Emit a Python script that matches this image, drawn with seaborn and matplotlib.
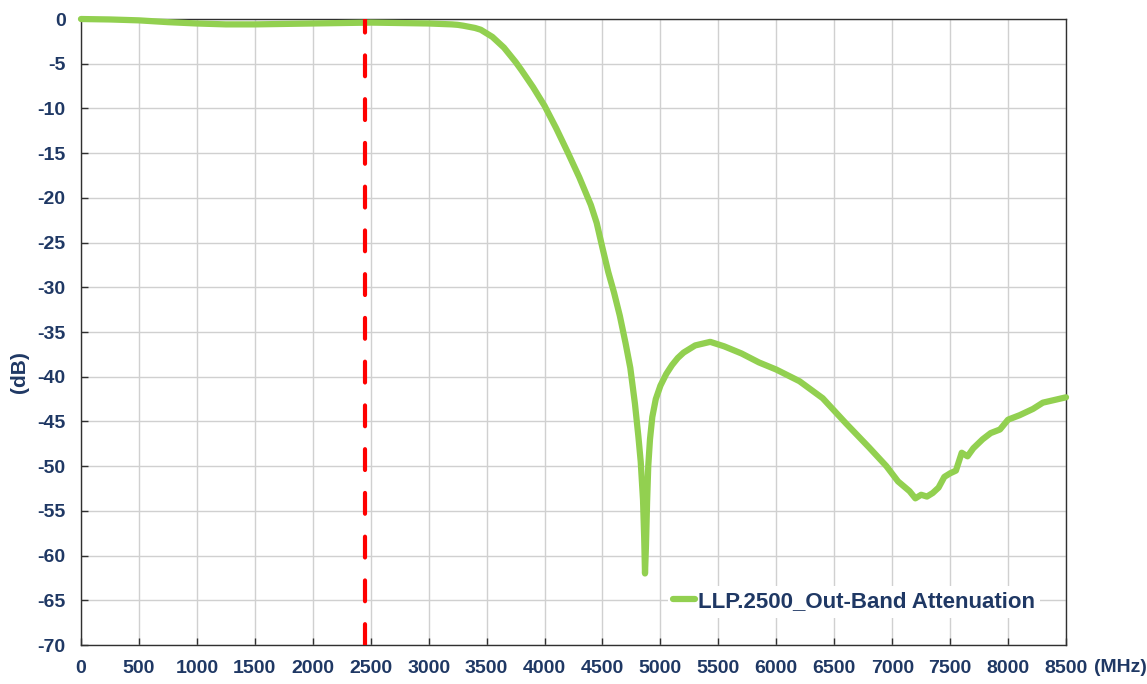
import seaborn as sns
import matplotlib.pyplot as plt
import pandas as pd

freq_mhz = [0, 250, 500, 750, 1000, 1250, 1500, 1750, 2000, 2250, 2500, 2750,
            3000, 3200, 3250, 3300, 3400, 3450, 3500, 3550, 3600, 3650, 3700,
            3750, 3800, 3900, 4000, 4100, 4200, 4300, 4400, 4450, 4500, 4550,
            4600, 4650, 4700, 4740, 4780, 4810, 4830, 4850, 4860, 4867, 4875,
            4885, 4895, 4910, 4930, 4960, 5000, 5050, 5100, 5150, 5200, 5300,
            5430, 5550, 5700, 5850, 6000, 6200, 6400, 6600, 6800, 6950, 7050,
            7150, 7200, 7250, 7300, 7350, 7400, 7450, 7500, 7550, 7600, 7650,
            7700, 7780, 7850, 7930, 8000, 8100, 8215, 8300, 8400, 8500]
atten_db = [0.0, -0.05, -0.15, -0.35, -0.5, -0.6, -0.6, -0.55, -0.5, -0.45,
            -0.4, -0.45, -0.5, -0.6, -0.65, -0.75, -1.0, -1.2, -1.6, -2.0,
            -2.6, -3.2, -4.0, -4.8, -5.7, -7.6, -9.7, -12.2, -14.9, -17.7,
            -20.8, -22.8, -25.6, -28.3, -30.6, -33.2, -36.3, -39.0, -43.0,
            -46.7, -49.5, -53.8, -58.0, -62.0, -59.0, -54.0, -50.0, -47.0,
            -44.5, -42.5, -41.0, -39.7, -38.7, -37.9, -37.3, -36.5, -36.1,
            -36.6, -37.4, -38.4, -39.2, -40.5, -42.4, -45.2, -47.9, -50.0,
            -51.7, -52.8, -53.6, -53.2, -53.4, -53.0, -52.4, -51.2, -50.8,
            -50.5, -48.5, -48.9, -48.0, -47.0, -46.3, -45.9, -44.8, -44.3,
            -43.6, -42.9, -42.6, -42.3]
cutoff_mhz = 2450
series_name = 'LLP.2500_Out-Band Attenuation'

x_ticks = list(range(0, 8501, 500))
y_ticks = list(range(0, -71, -5))

df = pd.DataFrame({'freq': freq_mhz, 'atten': atten_db})

sns.set_theme(style="whitegrid")
plt.rcParams['font.family'] = ['Liberation Sans', 'DejaVu Sans']
plt.rcParams['font.weight'] = 'bold'
plt.rcParams['axes.unicode_minus'] = False

navy = '#1F3864'
green = '#92D050'

fig = plt.figure(figsize=(11.47, 6.84), dpi=100)
ax = fig.add_axes([0.0706, 0.057, 0.8588, 0.9152])

sns.lineplot(data=df, x='freq', y='atten', ax=ax, color=green, linewidth=4.5,
             label=series_name, clip_on=False, zorder=3)
ax.axvline(cutoff_mhz, color='#FF0000', linewidth=3, dashes=(5, 5.5),
           dash_capstyle='round', zorder=4)

ax.set_xlim(0, 8500)
ax.set_ylim(-70, 0)
ax.set_xticks(x_ticks)
ax.set_yticks(y_ticks)
ax.set_xticklabels([str(t) for t in x_ticks])
ax.set_yticklabels([str(t) for t in y_ticks])
ax.set_xlabel('')
ax.set_ylabel('')

ax.grid(True, color='#D0D0D0', linewidth=1)
for s in ax.spines.values():
    s.set_visible(True)
    s.set_color('#303030')
    s.set_linewidth(1)
ax.tick_params(axis='both', direction='in', length=5, width=1, color='#303030',
               labelsize=14, labelcolor=navy, pad=11)
ax.tick_params(axis='x', bottom=True)
ax.tick_params(axis='y', left=True)
for lab in ax.get_xticklabels() + ax.get_yticklabels():
    lab.set_fontweight('bold')

fig.text(0.9765, 0.024, '(MHz)', ha='center', va='center', fontsize=14,
         fontweight='bold', color=navy)
fig.text(0.0174, 0.456, '(dB)', ha='center', va='center', rotation=90,
         fontsize=15, fontweight='bold', color=navy)

leg = ax.legend(loc='lower right', bbox_to_anchor=(0.985, 0.026), fontsize=16,
                frameon=True, framealpha=1, fancybox=False, edgecolor='white',
                handlelength=1.0, handletextpad=0.1, borderpad=0.25)
leg.get_frame().set_linewidth(0)
for t in leg.get_texts():
    t.set_color(navy)
    t.set_fontweight('bold')

fig.savefig('out.png', dpi=100)
